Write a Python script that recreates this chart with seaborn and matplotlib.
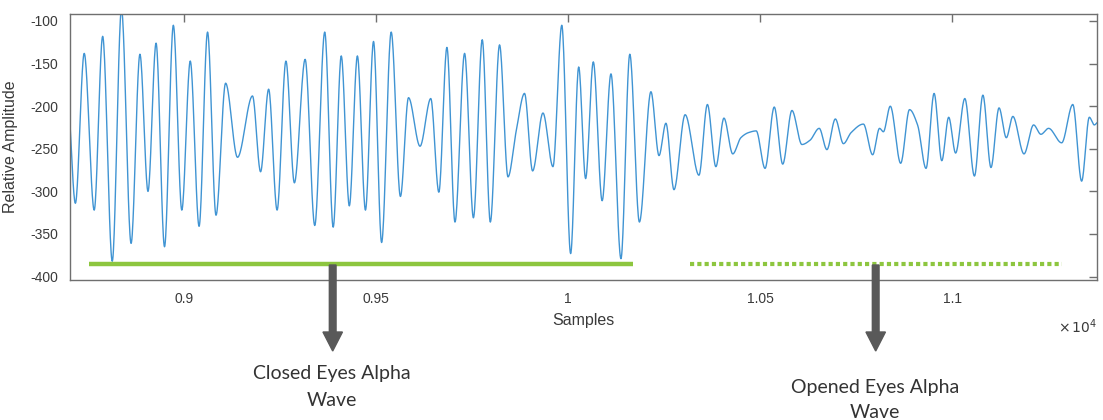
import numpy as np
import pandas as pd
import matplotlib
matplotlib.use("Agg")
import matplotlib.pyplot as plt
from matplotlib.patches import FancyArrow
import seaborn as sns

# ---- data (sample index, relative amplitude at turning points) ----
extrema_sample = [
    8702, 8718, 8741, 8767, 8789, 8814, 8838, 8863, 8886, 8907, 8928, 8950, 8973, 8995,
    9017, 9040, 9062, 9084, 9109, 9140, 9179, 9200, 9221, 9243, 9266, 9288, 9316, 9341,
    9367, 9389, 9410, 9431, 9452, 9473, 9494, 9515, 9540, 9564, 9585, 9615, 9643, 9664,
    9685, 9706, 9731, 9754, 9777, 9798, 9822, 9844, 9865, 9887, 9908, 9935, 9961, 9984,
    10007, 10028, 10046, 10066, 10089, 10112, 10138, 10161, 10186, 10216, 10237, 10255,
    10276, 10305, 10341, 10363, 10385, 10406, 10429, 10450, 10470, 10490, 10513, 10537,
    10559, 10583, 10609, 10630, 10654, 10674, 10696, 10717, 10737, 10769, 10793, 10811,
    10821, 10839, 10866, 10889, 10910, 10932, 10953, 10973, 10991, 11009, 11033, 11058,
    11080, 11101, 11122, 11141, 11158, 11187, 11212, 11231, 11251, 11285, 11314, 11337,
    11357, 11370, 11378,
]
extrema_amplitude = [
    -205, -314, -138, -322, -118, -382, -86, -361, -139, -300, -126, -365, -105, -322,
    -147, -341, -113, -328, -173, -260, -188, -277, -180, -322, -147, -290, -145, -340,
    -113, -342, -141, -317, -141, -322, -124, -360, -113, -306, -190, -247, -191, -301,
    -131, -336, -138, -331, -122, -336, -128, -283, -230, -185, -276, -208, -271, -105,
    -373, -154, -285, -148, -311, -162, -379, -139, -336, -183, -258, -220,
    -298, -210, -281, -198, -271, -214, -256, -237, -231, -229, -273, -201,
    -268, -205, -245, -240, -226, -251, -215, -244, -231, -221, -257, -226,
    -230, -200, -267, -204, -222, -273, -185, -264, -213, -255, -191, -282,
    -187, -272, -202, -237, -212, -256, -222, -233, -226, -243, -198, -288,
    -213, -222, -219,
]

x_ticks = [9000, 9500, 10000, 10500, 11000]
x_tick_labels = ["0.9", "0.95", "1", "1.05", "1.1"]
y_ticks = [-400, -350, -300, -250, -200, -150, -100]
y_tick_labels = ["-400", "-350", "-300", "-250", "-200", "-150", "-100"]

closed_span = [8753, 10170]
opened_span = [10318, 11285]
span_level = -385

closed_label = ["Closed Eyes Alpha", "Wave"]
opened_label = ["Opened Eyes Alpha", "Wave"]


def pchip(x, y, xn):
    x = np.asarray(x, float)
    y = np.asarray(y, float)
    h = np.diff(x)
    d = np.diff(y) / h
    m = np.zeros_like(y)
    for k in range(1, len(x) - 1):
        if d[k - 1] * d[k] > 0:
            w1 = 2 * h[k] + h[k - 1]
            w2 = h[k] + 2 * h[k - 1]
            m[k] = (w1 + w2) / (w1 / d[k - 1] + w2 / d[k])
    m[0] = d[0]
    m[-1] = d[-1]
    idx = np.clip(np.searchsorted(x, xn) - 1, 0, len(h) - 1)
    t = (xn - x[idx]) / h[idx]
    h00 = 2 * t**3 - 3 * t**2 + 1
    h10 = t**3 - 2 * t**2 + t
    h01 = -2 * t**3 + 3 * t**2
    h11 = t**3 - t**2
    return (h00 * y[idx] + h10 * h[idx] * m[idx]
            + h01 * y[idx + 1] + h11 * h[idx] * m[idx + 1])


samples = np.arange(extrema_sample[0], extrema_sample[-1] + 1, 1.0)
df = pd.DataFrame({"Samples": samples,
                   "Amplitude": pchip(extrema_sample, extrema_amplitude, samples)})

sns.set_style("white")
plt.rcParams["font.family"] = ["Liberation Sans", "DejaVu Sans"]
plt.rcParams["axes.unicode_minus"] = False

W, H = 1103, 420
fig = plt.figure(figsize=(W / 100, H / 100), dpi=100)
ax = fig.add_axes([70 / W, 1 - 280 / H, (1097 - 70) / W, (280 - 14) / H])

sns.lineplot(data=df, x="Samples", y="Amplitude", ax=ax, color="#4094d3",
             linewidth=1.0, estimator=None, sort=False)

green = "#8dc63f"
ax.plot(closed_span, [span_level, span_level], color=green, linewidth=3.2,
        solid_capstyle="butt", zorder=3)
ax.plot(opened_span, [span_level, span_level], color=green, linewidth=3.0,
        linestyle=(0, (1.0, 0.75)), dash_capstyle="butt", zorder=3)

ax.set_xlim(8704, 11377)
ax.set_ylim(-404, -91.8)
ax.set_xticks(x_ticks)
ax.set_xticklabels(x_tick_labels)
ax.set_yticks(y_ticks)
ax.set_yticklabels(y_tick_labels)

spine_col = "#6f6f6f"
for s in ax.spines.values():
    s.set_visible(True)
    s.set_color(spine_col)
    s.set_linewidth(1.0)
ax.tick_params(direction="in", length=5.5, width=1.0, color=spine_col,
               labelsize=10, labelcolor="#3a3a3a", top=True, right=True,
               pad=8.5)
ax.set_xlabel("Samples", fontsize=11.5, color="#3a3a3a")
ax.set_ylabel("Relative Amplitude", fontsize=11.5, color="#3a3a3a")
ax.xaxis.set_label_coords(0.5, -0.125)
ax.yaxis.set_label_coords(-0.051, 0.5)

fig.text(1097 / W, 1 - 327 / H, r"$\times\,10^{4}$", ha="right", va="center",
         fontsize=10, color="#3a3a3a")

# arrows (figure coords)
arrow_col = "#595959"
for xc in (332.7, 875.7):
    fig.patches.append(FancyArrow(
        xc / W, 1 - 265 / H, 0, -(351 - 265) / H,
        width=6.7 / W, head_width=19.5 / W, head_length=19 / H,
        length_includes_head=True, color=arrow_col, transform=fig.transFigure,
        figure=fig))

txt_kw = dict(ha="center", va="center", fontsize=14, color="#333333",
              family=["Lato", "DejaVu Sans"])
fig.text(331.7 / W, 1 - 373.3 / H, closed_label[0], **txt_kw)
fig.text(331.7 / W, 1 - 400 / H, closed_label[1], **txt_kw)
fig.text(875 / W, 1 - 387.3 / H, opened_label[0], **txt_kw)
fig.text(875 / W, 1 - 412.7 / H, opened_label[1], **txt_kw)

fig.savefig("out.png", dpi=100)
